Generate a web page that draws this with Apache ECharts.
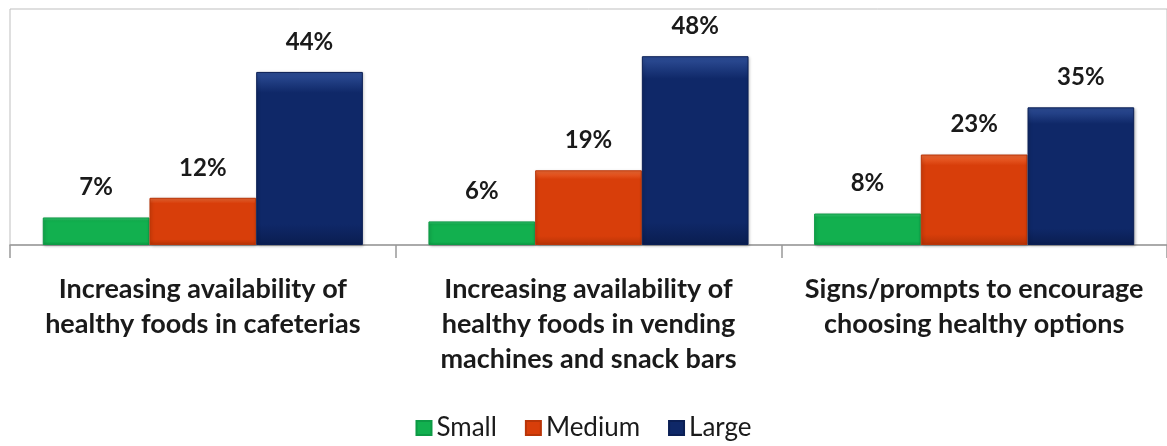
<!DOCTYPE html>
<html><head><meta charset="utf-8">
<script src="https://cdn.jsdelivr.net/npm/echarts@6/dist/echarts.min.js"></script>
<style>html,body{margin:0;padding:0;background:#fff}#c{width:1167px;height:446px}</style>
</head><body><div id="c"></div>
<script>
const categories = [
  "Increasing availability of\nhealthy foods in cafeterias",
  "Increasing availability of\nhealthy foods in vending\nmachines and snack bars",
  "Signs/prompts to encourage\nchoosing healthy options"
];
const seriesNames = ["Small", "Medium", "Large"];
const smallValues = [7, 6, 8];
const mediumValues = [12, 19, 23];
const largeValues = [44, 48, 35];

const FONT = "Lato, 'Noto Sans', sans-serif";
function grad(top, mid, bot) {
  return new echarts.graphic.LinearGradient(0, 0, 0, 1, [
    {offset: 0, color: top}, {offset: 0.12, color: mid}, {offset: 0.88, color: mid}, {offset: 1, color: bot}
  ]);
}
const styles = [
  {c: grad('#3ccf78', '#12b04f', '#0c9842'), b: '#0d9a45', legend: '#12b04f'},
  {c: grad('#f06a35', '#d83e0a', '#b83306'), b: '#b93508', legend: '#d83e0a'},
  {c: grad('#2f4f98', '#0f2868', '#0a1d50'), b: '#0b1f55', legend: '#0f2868'}
];
const values = [smallValues, mediumValues, largeValues];

const chart = echarts.init(document.getElementById('c'), null, {renderer: 'canvas'});
chart.setOption({
  animation: false,
  grid: {left: 10, top: 9, width: 1168, height: 236, show: true, borderColor: '#bfbfbf', borderWidth: 1, containLabel: false},
  legend: {
    top: 410, left: 'center', itemWidth: 15, itemHeight: 14, itemGap: 28, padding: 5,
    icon: 'rect',
    textStyle: {fontFamily: FONT, fontSize: 26, color: '#1a1a1a'},
    data: seriesNames.map((n, i) => ({name: n, itemStyle: {color: styles[i].legend}}))
  },
  xAxis: {
    type: 'category', data: categories,
    axisLine: {lineStyle: {color: '#999', width: 1.5}},
    axisTick: {show: true, length: 13, lineStyle: {color: '#999', width: 1.5}},
    axisLabel: {margin: 27, fontFamily: FONT, fontSize: 27, fontWeight: 'bold', color: '#1a1a1a', lineHeight: 35, interval: 0}
  },
  yAxis: {type: 'value', min: 0, max: 60, show: false, splitLine: {show: false}},
  series: seriesNames.map((n, i) => ({
    name: n, type: 'bar', data: values[i],
    barGap: '0%', barCategoryGap: '17%',
    itemStyle: {color: styles[i].c, borderColor: styles[i].b, borderWidth: 1, shadowColor: 'rgba(0,0,0,0.25)', shadowBlur: 3, shadowOffsetX: 1, shadowOffsetY: 1},
    label: {show: true, position: 'top', distance: 18, formatter: '{c}%', fontFamily: FONT, fontSize: 24, fontWeight: 'bold', color: '#1a1a1a'}
  }))
});
</script></body></html>
